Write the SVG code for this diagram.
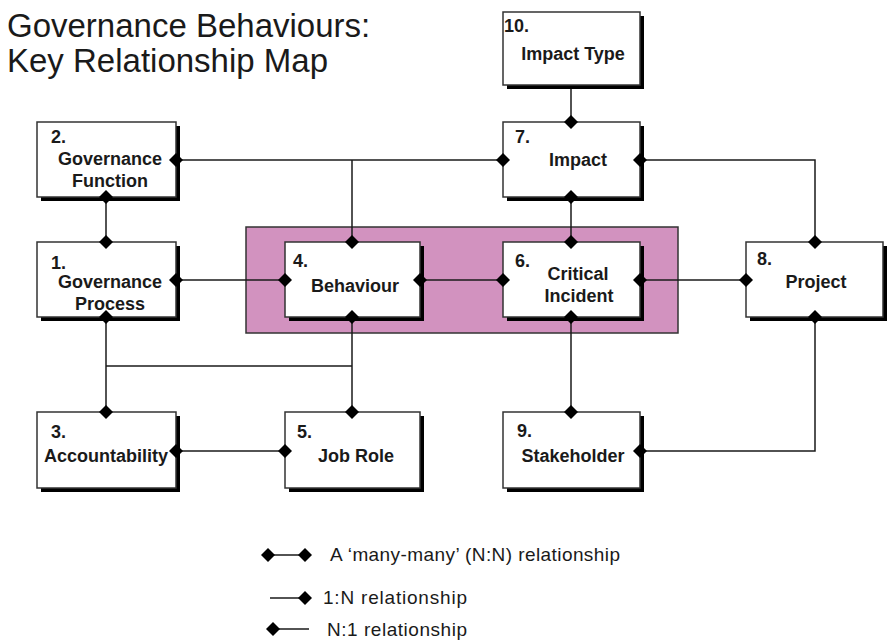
<svg xmlns="http://www.w3.org/2000/svg" xmlns:xlink="http://www.w3.org/1999/xlink" width="888" height="643" viewBox="0 0 888 643">
  <style>
    .title { font-family: "Liberation Sans", Arial, sans-serif; font-size: 33px; fill: #1a1a1a; }
    .lbl { font-family: "Liberation Sans", Arial, sans-serif; font-size: 18px; font-weight: bold; fill: #1a1a1a; }
    .num { font-family: "Liberation Sans", Arial, sans-serif; font-size: 18px; font-weight: bold; fill: #1a1a1a; }
    .leg { font-family: "Liberation Sans", Arial, sans-serif; font-size: 19px; fill: #1a1a1a; }
    .box { fill: #ffffff; stroke: #333333; stroke-width: 1.5; }
    .shadow { fill: #000000; }
    .conn { fill: none; stroke: #1a1a1a; stroke-width: 1.5; }
    .zone { fill: #d292bf; stroke: #333333; stroke-width: 1.5; }
  </style>
  <defs>
    <!-- relationship-end diamond, centred on its anchor point -->
    <path id="d" d="M-7,0 L0,-7 L7,0 L0,7 Z" fill="#000000"/>
  </defs>

  <rect width="888" height="643" fill="#ffffff"/>

  <!-- heading -->
  <text class="title" x="7" y="37">Governance Behaviours:</text>
  <text class="title" x="7" y="72">Key Relationship Map</text>

  <!-- highlighted core: behaviour and critical incident -->
  <rect class="zone" x="246" y="227" width="432" height="106"/>

  <!-- connectors -->
  <g id="connectors">
    <path class="conn" d="M571,85 V122"/>
    <path class="conn" d="M176,160 H503"/>
    <path class="conn" d="M352,160 V242"/>
    <path class="conn" d="M640,160 H815 V242"/>
    <path class="conn" d="M571,197 V242"/>
    <path class="conn" d="M106,197 V242"/>
    <path class="conn" d="M176,280 H285"/>
    <path class="conn" d="M420,280 H503"/>
    <path class="conn" d="M640,280 H746"/>
    <path class="conn" d="M106,317 V412"/>
    <path class="conn" d="M352,317 V412"/>
    <path class="conn" d="M106,366 H352"/>
    <path class="conn" d="M176,451 H285"/>
    <path class="conn" d="M571,317 V412"/>
    <path class="conn" d="M815,317 V451 H640"/>
  </g>

  <!-- entities -->
  <g id="n10">
    <rect class="shadow" x="507" y="16" width="137" height="73"/>
    <rect class="box" x="503" y="12" width="137" height="73"/>
    <text class="num" x="504" y="32">10.</text>
    <text class="lbl" x="573" y="60" text-anchor="middle">Impact Type</text>
  </g>
  <g id="n7">
    <rect class="shadow" x="507" y="126" width="137" height="75"/>
    <rect class="box" x="503" y="122" width="137" height="75"/>
    <text class="num" x="515" y="143">7.</text>
    <text class="lbl" x="578" y="166" text-anchor="middle">Impact</text>
  </g>
  <g id="n2">
    <rect class="shadow" x="41" y="126" width="139" height="75"/>
    <rect class="box" x="37" y="122" width="139" height="75"/>
    <text class="num" x="51" y="143">2.</text>
    <text class="lbl" x="110" y="165" text-anchor="middle">Governance</text>
    <text class="lbl" x="110" y="187" text-anchor="middle">Function</text>
  </g>
  <g id="n1">
    <rect class="shadow" x="41" y="246" width="139" height="75"/>
    <rect class="box" x="37" y="242" width="139" height="75"/>
    <text class="num" x="51" y="269">1.</text>
    <text class="lbl" x="110" y="288" text-anchor="middle">Governance</text>
    <text class="lbl" x="110" y="310" text-anchor="middle">Process</text>
  </g>
  <g id="n4">
    <rect class="shadow" x="289" y="246" width="135" height="75"/>
    <rect class="box" x="285" y="242" width="135" height="75"/>
    <text class="num" x="293" y="267">4.</text>
    <text class="lbl" x="355" y="292" text-anchor="middle">Behaviour</text>
  </g>
  <g id="n6">
    <rect class="shadow" x="507" y="246" width="137" height="75"/>
    <rect class="box" x="503" y="242" width="137" height="75"/>
    <text class="num" x="515" y="267">6.</text>
    <text class="lbl" x="578" y="280" text-anchor="middle">Critical</text>
    <text class="lbl" x="579" y="302" text-anchor="middle">Incident</text>
  </g>
  <g id="n8">
    <rect class="shadow" x="750" y="246" width="137" height="75"/>
    <rect class="box" x="746" y="242" width="137" height="75"/>
    <text class="num" x="757" y="265">8.</text>
    <text class="lbl" x="816" y="288" text-anchor="middle">Project</text>
  </g>
  <g id="n3">
    <rect class="shadow" x="41" y="416" width="139" height="76"/>
    <rect class="box" x="37" y="412" width="139" height="76"/>
    <text class="num" x="51" y="438">3.</text>
    <text class="lbl" x="106" y="462" text-anchor="middle">Accountability</text>
  </g>
  <g id="n5">
    <rect class="shadow" x="289" y="416" width="135" height="76"/>
    <rect class="box" x="285" y="412" width="135" height="76"/>
    <text class="num" x="297" y="438">5.</text>
    <text class="lbl" x="356" y="462" text-anchor="middle">Job Role</text>
  </g>
  <g id="n9">
    <rect class="shadow" x="507" y="416" width="137" height="76"/>
    <rect class="box" x="503" y="412" width="137" height="76"/>
    <text class="num" x="517" y="437">9.</text>
    <text class="lbl" x="573" y="462" text-anchor="middle">Stakeholder</text>
  </g>

  <!-- relationship ends, sitting on the box edges -->
  <g id="ends">
    <use xlink:href="#d" x="571" y="122"/>
    <use xlink:href="#d" x="176" y="160"/>
    <use xlink:href="#d" x="503" y="160"/>
    <use xlink:href="#d" x="352" y="242"/>
    <use xlink:href="#d" x="640" y="160"/>
    <use xlink:href="#d" x="815" y="242"/>
    <use xlink:href="#d" x="571" y="197"/>
    <use xlink:href="#d" x="571" y="242"/>
    <use xlink:href="#d" x="106" y="197"/>
    <use xlink:href="#d" x="106" y="242"/>
    <use xlink:href="#d" x="176" y="280"/>
    <use xlink:href="#d" x="285" y="280"/>
    <use xlink:href="#d" x="420" y="280"/>
    <use xlink:href="#d" x="503" y="280"/>
    <use xlink:href="#d" x="640" y="280"/>
    <use xlink:href="#d" x="746" y="280"/>
    <use xlink:href="#d" x="106" y="317"/>
    <use xlink:href="#d" x="352" y="317"/>
    <use xlink:href="#d" x="106" y="412"/>
    <use xlink:href="#d" x="352" y="412"/>
    <use xlink:href="#d" x="176" y="451"/>
    <use xlink:href="#d" x="285" y="451"/>
    <use xlink:href="#d" x="571" y="317"/>
    <use xlink:href="#d" x="571" y="412"/>
    <use xlink:href="#d" x="815" y="317"/>
    <use xlink:href="#d" x="640" y="451"/>
  </g>

  <!-- key -->
  <g id="legend">
    <path class="conn" d="M268,555 H305"/>
    <use xlink:href="#d" x="268" y="555"/>
    <use xlink:href="#d" x="305" y="555"/>
    <text class="leg" x="330" y="561" textLength="290" lengthAdjust="spacing">A ‘many-many’ (N:N) relationship</text>
    <path class="conn" d="M270,598 H305"/>
    <use xlink:href="#d" x="305" y="598"/>
    <text class="leg" x="323" y="604" textLength="144" lengthAdjust="spacing">1:N relationship</text>
    <path class="conn" d="M273,629 H309"/>
    <use xlink:href="#d" x="273" y="629"/>
    <text class="leg" x="327" y="636" textLength="140" lengthAdjust="spacing">N:1 relationship</text>
  </g>
</svg>
